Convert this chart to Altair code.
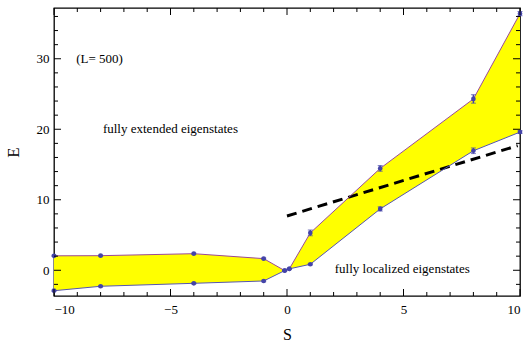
import altair as alt
import pandas as pd

# Band edges E(s) for L = 500
s_vals = [-10, -8, -4, -1, -0.1, 0.1, 1, 4, 8, 10]
upper = [2.05, 2.07, 2.35, 1.65, -0.05, 0.2, 5.3, 14.45, 24.3, 36.4]
lower = [-2.9, -2.27, -1.85, -1.52, -0.05, 0.2, 0.85, 8.7, 16.95, 19.6]
upper_err = [0.1, 0.1, 0.1, 0.1, 0.05, 0.05, 0.4, 0.4, 0.6, 0.3]
lower_err = [0.1, 0.1, 0.1, 0.1, 0.05, 0.05, 0.1, 0.3, 0.4, 0.2]

# Dashed reference line
dash_s = [0, 9.9]
dash_e = [7.7, 17.67]

# Axis ticks
x_major = [-10, -5, 0, 5, 10]
x_minor = [-9, -8, -7, -6, -4, -3, -2, -1, 1, 2, 3, 4, 6, 7, 8, 9]
y_major = [0, 10, 20, 30]
y_minor = [-2, 2, 4, 6, 8, 12, 14, 16, 18, 22, 24, 26, 28, 32, 34, 36]

W, H = 466, 288
FONT = "Liberation Serif"

xs = alt.Scale(domain=[-10, 10], nice=False, zero=False)
ys = alt.Scale(domain=[-3.65, 37.2], nice=False, zero=False)

band = pd.DataFrame({"s": s_vals, "upper": upper, "lower": lower,
                     "uhi": [u + e for u, e in zip(upper, upper_err)],
                     "ulo": [u - e for u, e in zip(upper, upper_err)],
                     "lhi": [l + e for l, e in zip(lower, lower_err)],
                     "llo": [l - e for l, e in zip(lower, lower_err)]})

X = alt.X("s:Q", scale=xs,
          axis=alt.Axis(values=x_major, tickSize=0, domain=False, grid=False,
                        labelFont=FONT, labelFontSize=13, labelColor="black",
                        labelPadding=7, title="S", titleFont=FONT,
                        titleFontSize=16, titleFontWeight="normal",
                        titleColor="black", titlePadding=10))
Y = alt.Y("upper:Q", scale=ys,
          axis=alt.Axis(values=y_major, tickSize=0, domain=False, grid=False,
                        labelFont=FONT, labelFontSize=13, labelColor="black",
                        labelPadding=5, title="E", titleFont=FONT,
                        titleFontSize=17, titleFontWeight="normal",
                        titleColor="black", titlePadding=14))

base = alt.Chart(band)

area = base.mark_area(color="#ffff00", opacity=1).encode(
    x=X, y=Y, y2="lower:Q")

up_line = base.mark_line(color="#9a4a96", strokeWidth=1).encode(
    x="s:Q", y="upper:Q")
lo_line = base.mark_line(color="#5656b0", strokeWidth=1).encode(
    x="s:Q", y="lower:Q")

pt_color = "#4444a8"
up_pts = base.mark_circle(color=pt_color, size=22, opacity=1).encode(
    x="s:Q", y="upper:Q")
lo_pts = base.mark_circle(color=pt_color, size=22, opacity=1).encode(
    x="s:Q", y="lower:Q")

up_err = base.mark_rule(color=pt_color, strokeWidth=1.5).encode(
    x="s:Q", y="ulo:Q", y2="uhi:Q")
lo_err = base.mark_rule(color=pt_color, strokeWidth=1.5).encode(
    x="s:Q", y="llo:Q", y2="lhi:Q")
up_cap_hi = base.mark_tick(color=pt_color, orient="horizontal", size=5, thickness=1).encode(
    x="s:Q", y="uhi:Q")
up_cap_lo = base.mark_tick(color=pt_color, orient="horizontal", size=5, thickness=1).encode(
    x="s:Q", y="ulo:Q")
lo_cap_hi = base.mark_tick(color=pt_color, orient="horizontal", size=5, thickness=1).encode(
    x="s:Q", y="lhi:Q")
lo_cap_lo = base.mark_tick(color=pt_color, orient="horizontal", size=5, thickness=1).encode(
    x="s:Q", y="llo:Q")

dash = alt.Chart(pd.DataFrame({"s": dash_s, "e": dash_e})).mark_line(
    color="black", strokeWidth=3, strokeDash=[10, 6]).encode(
    x="s:Q", y="e:Q")

labels = pd.DataFrame({
    "s": [-9.05, -7.9, 2.05],
    "e": [30, 20, 0.2],
    "t": ["(L= 500)", "fully extended eigenstates", "fully localized eigenstates"],
})
text = alt.Chart(labels).mark_text(
    align="left", baseline="middle", font=FONT, fontSize=13, color="black").encode(
    x="s:Q", y="e:Q", text="t:N")


def xticks(vals, length):
    d = alt.Chart(pd.DataFrame({"v": vals}))
    bottom = d.mark_rule(color="black", strokeWidth=1).encode(
        x="v:Q", y=alt.value(H), y2=alt.value(H - length))
    top = d.mark_rule(color="black", strokeWidth=1).encode(
        x="v:Q", y=alt.value(0), y2=alt.value(length))
    return [bottom, top]


def yticks(vals, length):
    d = alt.Chart(pd.DataFrame({"v": vals}))
    left = d.mark_rule(color="black", strokeWidth=1).encode(
        y="v:Q", x=alt.value(0), x2=alt.value(length))
    right = d.mark_rule(color="black", strokeWidth=1).encode(
        y="v:Q", x=alt.value(W), x2=alt.value(W - length))
    return [left, right]


ticks = xticks(x_major, 7) + xticks(x_minor, 4) + yticks(y_major, 7) + yticks(y_minor, 4)

chart = alt.layer(
    area, dash, up_line, lo_line, up_err, lo_err,
    up_cap_hi, up_cap_lo, lo_cap_hi, lo_cap_lo, up_pts, lo_pts, text, *ticks
).properties(
    width=W, height=H,
    autosize=alt.AutoSizeParams(type="none"),
    padding={"left": 54, "top": 8, "right": 8, "bottom": 47},
    background="white",
).configure_view(stroke="black", strokeWidth=1.3)

chart.save("out.html", embed_options={"renderer": "svg", "actions": False})
